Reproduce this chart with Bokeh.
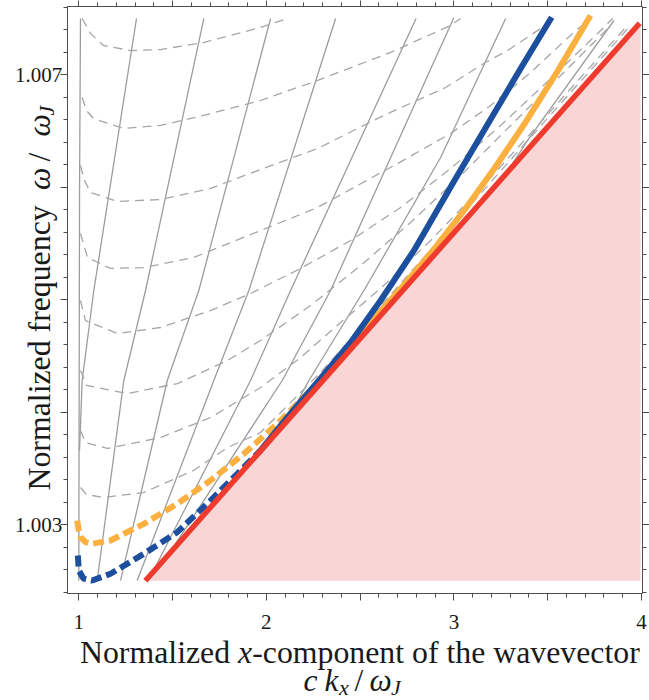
from bokeh.plotting import figure
from bokeh.models import Range1d, LinearAxis, FixedTicker, Label
from bokeh.embed import file_html
from bokeh.resources import INLINE
import math

# ---------------- data ----------------
red_x = [1.355, 3.990]
red_y = [1.002500, 1.007456]
fill_x = [1.355, 3.995, 3.995]
fill_y = [1.002500, 1.007460, 1.002500]

blue_dash_x = [0.995, 1.000, 1.025, 1.071, 1.169, 1.347, 1.525, 1.702, 1.845, 1.969]
blue_dash_y = [1.002724, 1.002591, 1.002520, 1.002502, 1.002562, 1.002740, 1.002932, 1.003213, 1.003451, 1.003658]
blue_solid_x = [1.969, 2.129, 2.289, 2.449, 2.609, 2.787, 2.998, 3.213, 3.366, 3.521]
blue_solid_y = [1.003658, 1.003987, 1.004298, 1.004618, 1.004991, 1.005436, 1.006045, 1.006651, 1.007082, 1.007509]

orange_dash_x = [0.991, 1.000, 1.009, 1.036, 1.071, 1.169, 1.347, 1.525, 1.702, 1.880, 2.058, 2.218, 2.278]
orange_dash_y = [1.003036, 1.002947, 1.002887, 1.002844, 1.002828, 1.002858, 1.003006, 1.003184, 1.003391, 1.003628, 1.003895, 1.004162, 1.004271]
orange_solid_x = [2.278, 2.395, 2.555, 2.715, 2.891, 3.062, 3.222, 3.382, 3.552, 3.728]
orange_solid_y = [1.004271, 1.004493, 1.004796, 1.005095, 1.005442, 1.005809, 1.006180, 1.006576, 1.007028, 1.007525]

s0_x = [1.009, 1.004, 1.000]
s0_y = [1.007498, 1.005991, 1.002502]
s1_x = [1.3077, 1.0800, 1.0181, 1.0037]
s1_y = [1.007498, 1.005080, 1.004280, 1.003658]
s2_x = [1.6667, 1.3557, 1.2400, 1.0981]
s2_y = [1.007498, 1.005080, 1.004280, 1.002502]
s3_x = [2.0224, 1.6400, 1.4715, 1.2224]
s3_y = [1.007498, 1.005080, 1.004280, 1.002502]
s4_x = [2.3691, 1.9067, 1.7200, 1.3115]
s4_y = [1.007498, 1.005080, 1.004280, 1.002502]
s5_x = [2.7981, 2.1291, 1.9157, 1.3824]
s5_y = [1.007498, 1.005080, 1.004280, 1.002538]
s6_x = [3.0000, 2.3424, 2.0848, 1.4997]
s6_y = [1.007507, 1.005080, 1.004280, 1.002787]
s7_x = [3.2757, 2.9291, 2.5200, 2.2267, 2.1397]
s7_y = [1.007498, 1.006262, 1.005080, 1.004280, 1.004013]
s8_x = [3.8533, 3.3915, 3.3131]
s8_y = [1.007480, 1.006413, 1.006209]

d1_x = [1.0181, 1.0624, 1.1317, 1.2757, 1.4357, 1.6651, 1.9691, 2.1131]
d1_y = [1.007498, 1.007364, 1.007258, 1.007213, 1.007222, 1.007284, 1.007418, 1.007498]
d2_x = [1.0181, 1.0411, 1.0784, 1.2384, 1.4357, 1.6651, 1.9691, 2.2731, 2.6624, 2.9824, 3.0357]
d2_y = [1.006796, 1.006680, 1.006609, 1.006520, 1.006547, 1.006636, 1.006769, 1.006947, 1.007196, 1.007436, 1.007498]
d3_x = [1.0091, 1.0304, 1.0624, 1.2064, 1.4357, 1.7024, 1.9691, 2.2731, 2.6251, 2.9557, 3.1584, 3.2864, 3.4624, 3.5424]
d3_y = [1.006191, 1.006058, 1.005951, 1.005871, 1.005889, 1.005987, 1.006156, 1.006342, 1.006636, 1.006884, 1.007098, 1.007213, 1.007409, 1.007498]
d4_x = [1.0091, 1.0464, 1.1691, 1.3451, 1.6117, 1.9691, 2.2731, 2.6997, 2.9824, 3.1957, 3.4091, 3.6491, 3.7291]
d4_y = [1.005587, 1.005373, 1.005276, 1.005284, 1.005373, 1.005613, 1.005818, 1.006209, 1.006476, 1.006724, 1.007018, 1.007391, 1.007498]
d5_x = [1.0091, 1.0357, 1.2064, 1.4357, 1.7024, 1.9157, 2.1824, 2.4491, 2.7157, 2.9824, 3.2491, 3.5157, 3.7824, 3.8464]
d5_y = [1.004991, 1.004813, 1.004698, 1.004751, 1.004902, 1.005053, 1.005276, 1.005524, 1.005818, 1.006164, 1.006547, 1.006964, 1.007391, 1.007498]
d6_x = [1.0091, 1.0411, 1.2597, 1.5264, 1.7931, 1.9691, 2.2357, 2.5024, 2.7691, 3.0357, 3.3024, 3.5691, 3.8357]
d6_y = [1.004369, 1.004236, 1.004164, 1.004253, 1.004458, 1.004636, 1.004947, 1.005302, 1.005685, 1.006102, 1.006547, 1.006991, 1.007436]
d7_x = [1.0091, 1.0357, 1.1531, 1.4357, 1.7024, 1.9691, 2.1824, 2.3957, 2.6091, 2.8757, 3.1424, 3.4091, 3.6757, 3.9157]
d7_y = [1.003836, 1.003729, 1.003676, 1.003773, 1.003951, 1.004218, 1.004484, 1.004796, 1.005098, 1.005524, 1.005987, 1.006476, 1.006973, 1.007418]
d8_x = [1.0091, 1.0411, 1.1317, 1.3451, 1.6117, 1.7931, 1.9691, 2.2891, 2.7157, 3.1424, 3.5691, 3.9424]
d8_y = [1.003329, 1.003267, 1.003240, 1.003284, 1.003480, 1.003684, 1.003818, 1.004351, 1.005142, 1.005942, 1.006742, 1.007436]

# ticks
x_major = [1, 1.5, 2, 2.5, 3, 3.5, 4]
x_labels = {1: "1", 1.5: "", 2: "2", 2.5: "", 3: "3", 3.5: "", 4: "4"}
x_blank = {1: "", 1.5: "", 2: "", 2.5: "", 3: "", 3.5: "", 4: ""}
x_minor = [round(1.0 + 0.1 * i, 1) for i in range(31)]
y_major = [1.003, 1.004, 1.005, 1.006, 1.007]
y_labels = {1.003: "1.003", 1.004: "", 1.005: "", 1.006: "", 1.007: "1.007"}
y_blank = {1.003: "", 1.004: "", 1.005: "", 1.006: "", 1.007: ""}
y_minor = [round(1.0024 + 0.0002 * i, 4) for i in range(27)]

# plotted region (frame of the chart)
PX0, PX1 = 0.9382, 4.0037
PY0, PY1 = 1.0023867, 1.0076044

# ---------------- figure: the canvas is one big data space ----------------
W, H = 649, 700
CX0, CX1 = 0.58256, 4.04259
CY0, CY1 = 1.0014356, 1.0076578

p = figure(width=W, height=H, x_range=Range1d(CX0, CX1), y_range=Range1d(CY0, CY1),
           output_backend="svg", toolbar_location=None, min_border=0,
           x_axis_type=None, y_axis_type=None)
p.xgrid.visible = False
p.ygrid.visible = False
p.outline_line_color = None
p.background_fill_color = "white"
p.border_fill_color = "white"

AX = "#4d4d4d"
FONT = "Liberation Serif"


def make_axis(ticks, minor, labels, loc, bounds, standoff):
    ax = LinearAxis(fixed_location=loc, bounds=bounds)
    ax.ticker = FixedTicker(ticks=ticks, minor_ticks=minor)
    # with a fixed location the "out" side points into the chart
    ax.major_tick_in = 0
    ax.major_tick_out = 7
    ax.minor_tick_in = 0
    ax.minor_tick_out = 4
    ax.major_tick_line_color = AX
    ax.minor_tick_line_color = AX
    ax.axis_line_color = AX
    ax.major_label_text_font = FONT
    ax.major_label_text_color = "#1a1a1a"
    ax.major_label_text_font_size = "21px"
    ax.major_label_overrides = labels
    ax.major_label_standoff = standoff
    return ax


p.add_layout(make_axis(x_major, x_minor, x_labels, PY0, (PX0, PX1), 14), "below")
p.add_layout(make_axis(y_major, y_minor, y_labels, PX0, (PY0, PY1), -2), "left")
p.add_layout(make_axis(x_major, x_minor, x_blank, PY1, (PX0, PX1), 0), "above")
p.add_layout(make_axis(y_major, y_minor, y_blank, PX1, (PY0, PY1), 0), "right")

# ---------------- marks ----------------
p.patch(fill_x, fill_y, fill_color="#fad5d5", line_color=None)

GREY = "#9c9c9c"
for xs, ys in [(s0_x, s0_y), (s1_x, s1_y), (s2_x, s2_y), (s3_x, s3_y), (s4_x, s4_y),
               (s5_x, s5_y), (s6_x, s6_y), (s7_x, s7_y), (s8_x, s8_y)]:
    p.line(xs, ys, line_color=GREY, line_width=1.3)
for xs, ys in [(d1_x, d1_y), (d2_x, d2_y), (d3_x, d3_y), (d4_x, d4_y), (d5_x, d5_y),
               (d6_x, d6_y), (d7_x, d7_y), (d8_x, d8_y)]:
    p.line(xs, ys, line_color="#a6a6a6", line_width=1.3, line_dash="9 6")

ORANGE = "#fbb040"
BLUE = "#1c4f9e"
RED = "#ee3b2d"
p.line(orange_dash_x, orange_dash_y, line_color=ORANGE, line_width=6, line_dash="11 5")
p.line(orange_solid_x, orange_solid_y, line_color=ORANGE, line_width=6, line_join="round")
p.line(blue_dash_x, blue_dash_y, line_color=BLUE, line_width=6, line_dash="11 5")
p.line(blue_solid_x, blue_solid_y, line_color=BLUE, line_width=6, line_join="round")
p.line(red_x, red_y, line_color=RED, line_width=5.5)

# ---------------- axis titles (pieces, positioned in page pixels) ----------------
def gx(px):
    return CX0 + px * (CX1 - CX0) / W


def gy(py):
    return CY1 - py * (CY1 - CY0) / H


F = 31.8
F2 = 31.5
FS = 22


def lab(px, py, t, size, italic=False, angle=0.0):
    p.add_layout(Label(x=gx(px), y=gy(py), text=t, text_font=FONT, text_font_size=f"{size}px",
                       text_font_style="italic" if italic else "normal",
                       text_color="#1a1a1a", angle=angle, text_align="left",
                       text_baseline="alphabetic"))


# x title, line 1
lab(79.5, 652, "Normalized ", F)
lab(237.6, 652, "x", F, True)
lab(251.7, 652, "-component of the wavevector", F)
# x title, line 2
lab(303, 680, "c", F2, True)
lab(324, 680, "k", F2, True)
lab(338.5, 687, "x", FS, True)
lab(354, 680, "/", F2)
lab(369, 680, "\u03c9", F2, True)
lab(390.5, 687, "J", FS, True)

# y title (rotated, reads upward)
A = math.pi / 2
lab(39, 490, "Normalized frequency", F, False, A)
lab(39, 189.5, "\u03c9", F, True, A)
lab(39, 161, "/", F, False, A)
lab(39, 136, "\u03c9", F, True, A)
lab(46, 115, "J", FS, True, A)

open("out.html", "w").write(file_html(p, INLINE))
